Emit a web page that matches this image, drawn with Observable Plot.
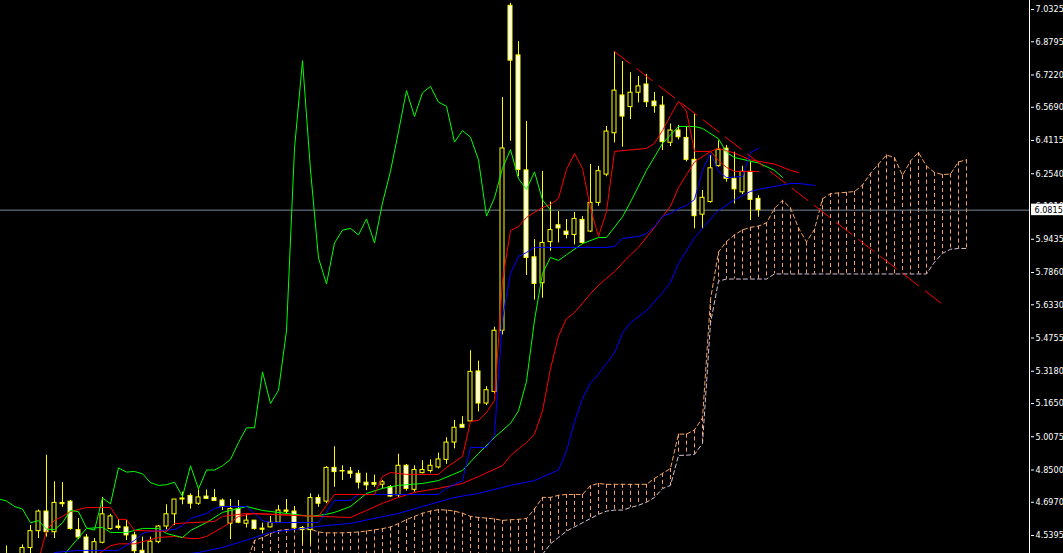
<!DOCTYPE html>
<html><head><meta charset="utf-8">
<script src="https://cdn.jsdelivr.net/npm/d3@7"></script>
<script src="https://cdn.jsdelivr.net/npm/@observablehq/plot@0.6"></script>
<style>
html,body{margin:0;padding:0;background:#000;overflow:hidden;}
#chart svg{display:block;}
</style></head><body><div id="chart"></div>
<script>
// ---- candles (bar index 0..94) ----
const opens = [4.44,4.43,4.43,4.48,4.56,4.653,4.555,4.694,4.70,4.565,
4.53,4.43,4.505,4.57,4.582,4.578,4.54,4.467,4.44,4.508,
4.582,4.64,4.715,4.727,4.69,4.724,4.717,4.705,4.595,4.665,
4.595,4.61,4.572,4.578,4.60,4.658,4.653,4.575,4.565,4.717,
4.70,4.86,4.845,4.843,4.832,4.79,4.788,4.78,4.768,4.73,
4.87,4.756,4.835,4.845,4.862,4.898,4.98,5.064,5.08,5.317,
5.165,5.22,5.51,7.05,6.815,6.27,5.858,5.735,5.93,6.01,
5.98,5.964,6.035,5.98,6.116,6.25,6.446,6.625,6.57,6.638,
6.677,6.596,6.577,6.401,6.459,6.424,6.32,6.06,6.12,6.29,
6.373,6.23,6.166,6.263,6.135];
const highs = [4.49,4.44,4.495,4.587,4.66,4.92,4.794,4.79,4.705,4.62,
4.545,4.525,4.72,4.64,4.615,4.61,4.555,4.532,4.532,4.587,
4.685,4.71,4.745,4.737,4.755,4.755,4.757,4.712,4.71,4.705,
4.64,4.61,4.598,4.63,4.682,4.71,4.677,4.582,4.737,4.732,
4.866,4.96,4.87,4.862,4.848,4.835,4.826,4.80,4.776,4.925,
4.876,4.87,4.894,4.898,4.93,5.003,5.085,5.103,5.415,5.366,
5.245,5.527,6.615,7.062,6.88,6.502,5.942,6.265,6.12,6.075,
6.037,6.07,6.051,6.298,6.289,6.478,6.833,6.786,6.733,6.715,
6.725,6.64,6.62,6.49,6.483,6.478,6.535,6.175,6.34,6.41,
6.388,6.356,6.29,6.31,6.15];
const lows = [4.40,4.40,4.41,4.43,4.525,4.532,4.525,4.673,4.565,4.52,
4.40,4.41,4.50,4.565,4.565,4.515,4.44,4.41,4.42,4.50,
4.565,4.587,4.685,4.665,4.682,4.713,4.70,4.658,4.52,4.595,
4.575,4.565,4.547,4.575,4.598,4.64,4.565,4.50,4.50,4.673,
4.69,4.768,4.80,4.81,4.76,4.752,4.768,4.76,4.72,4.72,
4.75,4.745,4.832,4.835,4.855,4.877,4.95,5.05,5.08,5.125,
5.155,5.21,5.49,6.408,6.24,5.772,5.655,5.664,5.887,5.926,
5.945,5.917,5.92,5.975,6.10,6.24,6.40,6.38,6.511,6.59,
6.568,6.541,6.364,6.383,6.415,6.31,5.993,5.99,6.115,6.285,
6.214,6.11,6.155,6.032,6.048];
const closes = [4.43,4.42,4.48,4.56,4.653,4.555,4.694,4.688,4.57,4.53,
4.43,4.508,4.64,4.63,4.575,4.54,4.465,4.43,4.51,4.582,
4.64,4.71,4.71,4.69,4.72,4.713,4.703,4.677,4.665,4.60,
4.61,4.57,4.567,4.60,4.658,4.652,4.575,4.565,4.717,4.69,
4.86,4.84,4.843,4.832,4.79,4.777,4.78,4.792,4.724,4.87,
4.76,4.85,4.85,4.87,4.90,4.98,5.05,5.05,5.315,5.165,
5.228,5.51,6.374,6.79,6.272,5.855,5.732,5.926,5.987,5.995,
5.964,6.04,5.926,6.116,6.266,6.454,6.648,6.525,6.638,6.668,
6.593,6.574,6.404,6.459,6.427,6.32,6.053,6.14,6.28,6.368,
6.23,6.18,6.263,6.13,6.0815];

// ---- Ichimoku ----
const tenkanBars = [4,5,6,7,8,10,13,14,15,16,20,21,26,27,30,39,40,41,46,47,
48,50,54,55,57,58,59,60,61,62,63,64,65,66,67,68,69,70,71,72,
73,74,75,76,80,81,82,83,84,85,86,88,89,90,91,94];
const tenkanVals = [4.42,4.563,4.611,4.630,4.653,4.672,4.672,4.616,4.616,4.563,4.559,4.596,4.606,4.630,4.644,4.630,4.682,4.734,4.734,4.819,
4.838,4.829,4.829,4.862,4.914,5.080,5.085,5.123,5.180,5.748,5.985,6.004,6.047,6.071,6.094,6.108,6.137,6.274,6.350,6.279,
6.089,5.957,6.075,6.360,6.374,6.398,6.459,6.530,6.597,6.549,6.360,6.360,6.317,6.284,6.265,6.265];
const kijunBars = [5,6,9,14,16,17,18,21,22,23,25,26,27,30,31,32,33,39,40,41,
43,44,54,55,57,58,60,61,62,63,64,65,66,75,76,77,79,80,81,82,
83,84,85,86,87,88,89,90,92,93,94];
const kijunVals = [4.42,4.459,4.469,4.469,4.516,4.549,4.559,4.568,4.587,4.620,4.644,4.668,4.677,4.677,4.644,4.611,4.601,4.601,4.649,4.706,
4.706,4.734,4.734,4.763,4.800,4.957,4.957,5.014,5.568,5.781,5.862,5.881,5.905,5.905,5.909,5.947,5.957,5.971,6.004,6.052,
6.066,6.089,6.104,6.132,6.270,6.350,6.265,6.236,6.241,6.355,6.374];
const cloudStart = 30;
const spanA = [4.41,4.516,4.530,4.549,4.563,4.568,4.570,4.573,4.570,4.556,
4.552,4.552,4.552,4.554,4.556,4.561,4.566,4.572,4.580,4.596,
4.615,4.630,4.645,4.655,4.662,4.660,4.655,4.645,4.630,4.625,
4.622,4.618,4.611,4.614,4.616,4.620,4.665,4.720,4.720,4.730,
4.734,4.734,4.734,4.776,4.786,4.782,4.782,4.782,4.782,4.782,
4.782,4.810,4.834,4.857,5.020,5.020,5.040,5.097,5.658,5.883,
5.933,5.964,5.988,6.000,6.006,6.021,6.090,6.128,6.092,5.997,
5.931,5.990,6.135,6.160,6.163,6.166,6.170,6.200,6.256,6.300,
6.343,6.330,6.246,6.315,6.355,6.290,6.260,6.250,6.253,6.310,
6.320];
const spanB = [4.40,4.40,4.40,4.40,4.40,4.40,4.40,4.40,4.40,4.40,
4.40,4.40,4.40,4.40,4.40,4.40,4.40,4.40,4.40,4.40,
4.40,4.40,4.40,4.40,4.40,4.40,4.40,4.40,4.40,4.40,
4.40,4.40,4.40,4.40,4.40,4.40,4.40,4.45,4.50,4.53,
4.56,4.58,4.60,4.62,4.64,4.655,4.660,4.660,4.672,4.683,
4.697,4.720,4.762,4.777,4.919,4.920,4.924,4.976,5.546,5.745,
5.755,5.755,5.755,5.755,5.755,5.755,5.779,5.779,5.779,5.779,
5.779,5.779,5.779,5.779,5.779,5.779,5.779,5.779,5.779,5.779,
5.779,5.779,5.779,5.779,5.779,5.779,5.835,5.877,5.896,5.900,
5.900];

// ---- Alligator ----
const jawBars = [22,24,27,29,31,33,37,40,43,49,52,56,59,63,66,69,70,71,72,73,
74,75,76,77,78,80,82,83,84,86,88,89,91,93,94,98,99,101];
const jawVals = [4.45,4.459,4.483,4.506,4.530,4.554,4.573,4.587,4.597,4.644,4.677,4.72,4.739,4.777,4.80,4.85,4.94,5.078,5.19,5.263,
5.304,5.355,5.405,5.50,5.548,5.606,5.69,5.739,5.829,5.95,6.04,6.08,6.13,6.17,6.18,6.208,6.208,6.199];
const teethBars = [11,13,14,16,19,21,23,24,25,27,28,29,31,39,43,45,47,49,51,54,
57,59,62,63,64,65,66,67,68,69,70,71,72,73,74,75,76,78,79,81,
83,84,86,88,89,91,93,96,98,99];
const teethVals = [4.44,4.491,4.50,4.50,4.53,4.535,4.525,4.525,4.535,4.578,4.601,4.630,4.644,4.630,4.625,4.658,4.692,4.72,4.744,4.763,
4.786,4.819,4.871,4.918,4.95,4.98,5.02,5.13,5.33,5.485,5.567,5.596,5.64,5.686,5.725,5.758,5.79,5.87,5.905,6.0,
6.10,6.189,6.31,6.36,6.374,6.352,6.32,6.30,6.27,6.26];
const lipsBars = [7,10,12,13,15,17,19,20,22,23,25,27,30,32,35,38,40,41,43,45,
47,49,52,54,57,59,61,63,64,65,66,67,68,69,70,72,74,75,77,78,
80,82,84,86,87,89,90,91,94,96,97];
const lipsVals = [4.44,4.573,4.578,4.554,4.554,4.573,4.573,4.549,4.530,4.563,4.601,4.649,4.677,4.658,4.644,4.630,4.64,4.649,4.677,4.739,
4.763,4.777,4.786,4.80,4.848,4.928,5.004,5.071,5.13,5.27,5.56,5.782,5.857,5.843,5.87,5.923,5.952,5.952,6.05,6.12,
6.27,6.398,6.478,6.478,6.469,6.42,6.355,6.331,6.305,6.27,6.237];

// ---- trend line, price scale ----
const trendBars = [76, 117.2];
const trendVals = [6.833, 5.63];
const yTicks = [7.0325,6.8795,6.7220,6.5690,6.4115,6.2540,6.1010,5.9435,5.7860,5.6330,5.4755,5.3180,5.1650,5.0075,4.8500,4.6970,4.5395];
const lastPrice = 6.0815;
const chikouShift = 26;

// ---- build tables ----
const bars = opens.map((o, i) => ({i, o, h: highs[i], l: lows[i], c: closes[i]}));
const zip = (xs, ys) => xs.map((x, k) => ({i: x, v: ys[k]}));
const chikou = closes.map((c, i) => ({i: i - chikouShift, v: c})).filter(d => d.i >= -1);
const cloud = spanA.map((a, k) => ({i: cloudStart + k, a, b: spanB[k]}));

const W = 1063, H = 553, MR = 33;
const px = p => (p - 6) / 8;             // pixel -> bar index helper for the frame
const xDom = [px(0), px(W - MR)];
const yDom = [4.5395 - 18 / 211, 7.0325 + 9 / 211];
const FONT = "'DejaVu Sans Condensed','DejaVu Sans',sans-serif";

const lineOpts = (stroke) => ({x: "i", y: "v", stroke, strokeWidth: 1, clip: true});

const chart = Plot.plot({
  width: W, height: H,
  marginLeft: 0, marginRight: MR, marginTop: 0, marginBottom: 0,
  style: {background: "#000", color: "#fff", fontFamily: FONT, fontSize: "9px"},
  x: {domain: xDom, axis: null},
  y: {domain: yDom, axis: null},
  marks: [
    Plot.ruleX(cloud, {x: "i", y1: "a", y2: "b", stroke: "#F4A460", strokeDasharray: "4,3", strokeWidth: 1, clip: true}),
    Plot.line(cloud, {x: "i", y: "a", stroke: "#F4A460", strokeDasharray: "4,3", strokeWidth: 1, clip: true}),
    Plot.line(cloud, {x: "i", y: "b", stroke: "#D8BFD8", strokeDasharray: "4,3", strokeWidth: 1, clip: true}),
    Plot.ruleY([lastPrice], {stroke: "#778899", strokeWidth: 1}),
    Plot.ruleX(bars, {x: "i", y1: "l", y2: "h", stroke: "#FFFF00", strokeWidth: 1, clip: true}),
    Plot.rect(bars.filter(d => d.c >= d.o), {x1: d => d.i - 0.25, x2: d => d.i + 0.25, y1: "o", y2: "c", fill: "#000", stroke: "#FFFF00", strokeWidth: 1, clip: true}),
    Plot.rect(bars.filter(d => d.c < d.o), {x1: d => d.i - 0.25, x2: d => d.i + 0.25, y1: "o", y2: "c", fill: "#FFFFFF", stroke: "#FFFF00", strokeWidth: 1, clip: true}),
    Plot.line(zip(jawBars, jawVals), lineOpts("#0000FF")),
    Plot.line(zip(teethBars, teethVals), lineOpts("#FF0000")),
    Plot.line(zip(lipsBars, lipsVals), lineOpts("#00FF00")),
    Plot.line(zip(kijunBars, kijunVals), lineOpts("#0000FF")),
    Plot.line(zip(tenkanBars, tenkanVals), lineOpts("#FF0000")),
    Plot.line(chikou, lineOpts("#00FF00")),
    Plot.line(zip(trendBars, trendVals), {x: "i", y: "v", stroke: "#FF0000", strokeWidth: 1, strokeDasharray: "20,8", clip: true}),
    Plot.ruleX([px(1029)], {stroke: "#FFFFFF", strokeWidth: 1}),
    Plot.axisY({anchor: "right", ticks: yTicks, tickFormat: d => d.toFixed(4), tickSize: 3, tickPadding: 2, label: null, color: "#FFFFFF", fontSize: 9}),
    Plot.rect([lastPrice], {x1: px(1031), x2: px(1064), y1: d => d - 5.5 / 211, y2: d => d + 6 / 211, fill: "#FFFFFF"}),
    Plot.text([lastPrice], {x: px(1034), y: d => d, text: d => d.toFixed(4), fill: "#000000", textAnchor: "start", fontSize: 9})
  ]
});
document.getElementById("chart").appendChild(chart);
</script>
</body></html>
